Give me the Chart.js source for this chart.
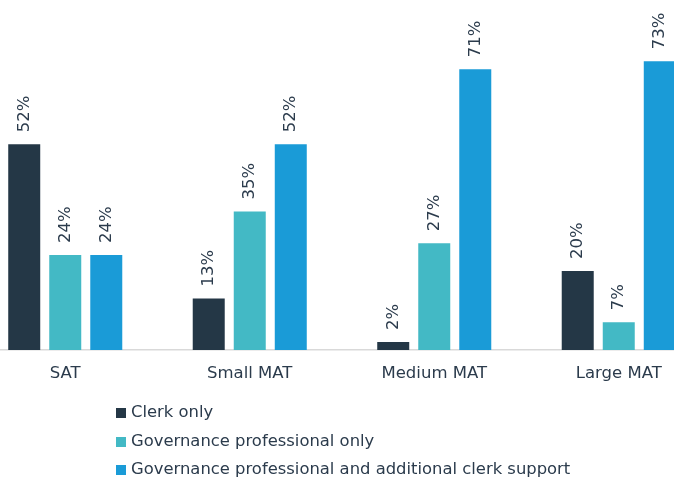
<!DOCTYPE html>
<html>
<head>
<meta charset="utf-8">
<script src="https://cdn.jsdelivr.net/npm/chart.js@4/dist/chart.umd.min.js"></script>
<style>
  html, body { margin: 0; padding: 0; background: #fff; }
  #wrap { position: relative; width: 674px; height: 479px; overflow: hidden; }
  #box { position: absolute; left: -27px; top: 0; width: 738px; height: 399px; }
  #legend { position: absolute; left: 116px; top: 398px; font-family: "DejaVu Sans", sans-serif; font-size: 16.4px; color: #2b3b4c; }
  #legend div { height: 28.5px; line-height: 28.5px; white-space: nowrap; }
  #legend span { display: inline-block; width: 10px; height: 10px; margin-right: 5px; vertical-align: -1px; }
</style>
</head>
<body>
<div id="wrap">
  <div id="box"><canvas id="barChart"></canvas></div>
  <div id="legend"></div>
</div>
<script>
// categories and series (percent)
const categories = ['SAT', 'Small MAT', 'Medium MAT', 'Large MAT'];
const clerkOnly = [52, 13, 2, 20];
const govProfOnly = [24, 35, 27, 7];
const govProfAndClerk = [24, 52, 71, 73];
const seriesNames = ['Clerk only', 'Governance professional only', 'Governance professional and additional clerk support'];
const seriesColors = ['#243746', '#43b9c5', '#1a9bd7'];

const textColor = '#2b3b4c';
const fontFamily = '"DejaVu Sans", sans-serif';

// rotated value labels above each bar
const valueLabels = {
    id: 'valueLabels',
    afterDatasetsDraw(chart) {
        const ctx = chart.ctx;
        ctx.save();
        ctx.fillStyle = textColor;
        ctx.font = '16.5px ' + fontFamily;
        ctx.textAlign = 'left';
        ctx.textBaseline = 'middle';
        chart.data.datasets.forEach((ds, i) => {
            chart.getDatasetMeta(i).data.forEach((bar, j) => {
                ctx.save();
                ctx.translate(bar.x, bar.y - 12);
                ctx.rotate(-Math.PI / 2);
                ctx.fillText(ds.data[j] + '%', 0, 0);
                ctx.restore();
            });
        });
        ctx.restore();
    }
};

const ctx = document.getElementById('barChart').getContext('2d');
const chart = new Chart(ctx, {
    type: 'bar',
    data: {
        labels: categories,
        datasets: [clerkOnly, govProfOnly, govProfAndClerk].map((d, i) => ({
            label: seriesNames[i],
            data: d,
            backgroundColor: seriesColors[i],
            borderWidth: 0,
            categoryPercentage: 0.667,
            barPercentage: 0.78
        }))
    },
    options: {
        responsive: true,
        maintainAspectRatio: false,
        animation: false,
        layout: { padding: { top: 2, bottom: 1.2, left: 0, right: 0 } },
        plugins: {
            legend: { display: false },
            tooltip: { enabled: false }
        },
        scales: {
            x: {
                grid: { display: false, drawTicks: false },
                border: { color: '#d9d9d9', width: 1.5 },
                ticks: { color: textColor, font: { family: fontFamily, size: 16.5 }, padding: 14 }
            },
            y: { display: false, min: 0, max: 88 }
        }
    },
    plugins: [valueLabels]
});

// legend as a vertical list, built from the chart's own datasets
const legendEl = document.getElementById('legend');
chart.data.datasets.forEach(ds => {
    const row = document.createElement('div');
    const sw = document.createElement('span');
    sw.style.background = ds.backgroundColor;
    row.appendChild(sw);
    row.appendChild(document.createTextNode(ds.label));
    legendEl.appendChild(row);
});
</script>
</body>
</html>
